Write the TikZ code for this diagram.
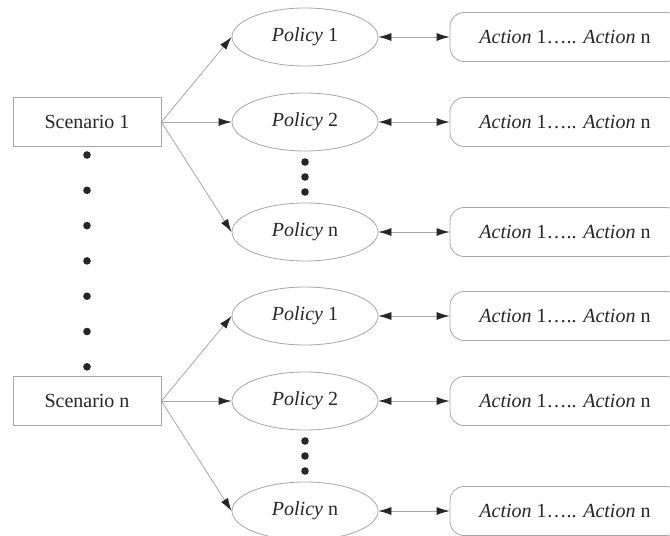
\documentclass[tikz,border=0pt]{standalone}
\usepackage{fontspec}
\setmainfont{Liberation Serif}
\usetikzlibrary{arrows.meta,shapes.geometric}

\tikzset{
  scenbox/.style={draw=gray!70,text=black!85,minimum width=74pt,minimum height=24.5pt,inner sep=0pt},
  polnode/.style={draw=gray!70,ellipse,text=black!85,minimum width=73pt,minimum height=29pt,inner sep=0pt},
  actbox/.style={draw=gray!70,rounded corners=7pt,text=black!85,minimum width=115pt,minimum height=24.5pt,inner sep=0pt},
  tip/.tip={Latex[length=6.5pt,width=4pt,black!85]},
  link/.style={gray!70,-tip},
  duplink/.style={gray!70,tip-tip},
}

\begin{document}
\begin{tikzpicture}[x=0.5pt,y=-0.5pt]
  \useasboundingbox (0,0) rectangle (670,536);
  \foreach \g/\sy in {1/122,n/401} {
    \node[scenbox] (s\g) at (87,\sy) {Scenario \g};
    % the three policies of this scenario and their actions
    \foreach \p/\dy in {1/-85,2/0,n/110} {
      \node[polnode] (p\g\p) at (305,\sy+\dy) {\textit{Policy} \p};
      \node[actbox] (a\g\p) at (565,\sy+\dy) {\textit{Action} 1….. \textit{Action} n};
      \draw[link] (s\g.east) -- (p\g\p.west);
      \draw[duplink] (p\g\p.east) -- (a\g\p.west);
    }
    \foreach \dy in {40,55,70} \fill[black!85] (305,\sy+\dy) circle[radius=1.9pt];
  }
  % dots between the two scenarios
  \foreach \k in {0,...,6} \fill[black!85] (87,155+35.3*\k) circle[radius=1.9pt];
\end{tikzpicture}
\end{document}
